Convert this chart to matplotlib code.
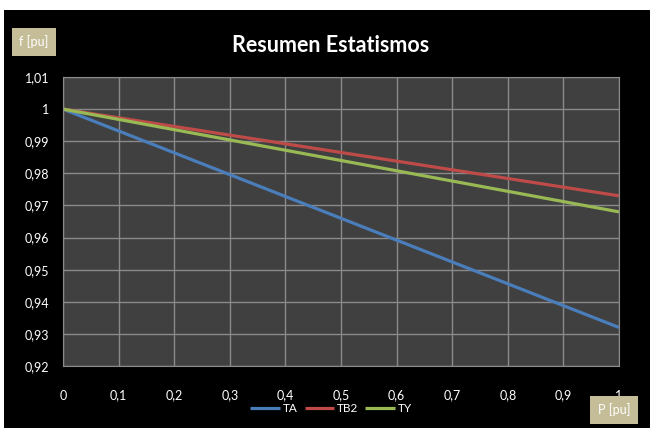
import matplotlib.pyplot as plt
from matplotlib.patches import Rectangle
from matplotlib import font_manager

# Datos de estatismo: frecuencia [pu] vs potencia [pu]
p_pu = [0.0, 1.0]
f_ta = [1.0, 0.932]
f_tb2 = [1.0, 0.973]
f_ty = [1.0, 0.968]
series = ['TA', 'TB2', 'TY']
colores = ['#4a7ebb', '#be4b48', '#98b954']

x_ticks = [i / 10 for i in range(11)]
y_ticks = [0.92 + i * 0.01 for i in range(10)]

names = {f.name for f in font_manager.fontManager.ttflist}
fam = 'Lato' if 'Lato' in names else 'DejaVu Sans'
plt.rcParams['font.family'] = [fam, 'DejaVu Sans']


def coma(v):
    s = f'{v:.2f}'.rstrip('0').rstrip('.')
    return s.replace('.', ',')


fig = plt.figure(figsize=(6.5, 4.28), dpi=100, facecolor='white')
# fondo negro del gráfico (borde blanco arriba e izquierda)
fig.patches.append(Rectangle((4 / 650, 0), 1, 418 / 428, transform=fig.transFigure,
                             facecolor='black', edgecolor='none', zorder=-10))

ax = fig.add_axes([63 / 650, 1 - 366 / 428, 556 / 650, 289 / 428])
ax.set_facecolor('#404040')

for y, c, n in zip([f_ta, f_tb2, f_ty], colores, series):
    ax.plot(p_pu, y, color=c, lw=2.3, label=n, solid_capstyle='butt')

ax.set_xlim(0, 1)
ax.set_ylim(0.92, 1.01)
ax.set_xticks(x_ticks)
ax.set_yticks(y_ticks)
ax.set_xticklabels([coma(v) for v in x_ticks])
ax.set_yticklabels([coma(v) for v in y_ticks])
ax.grid(True, color='#8a8a8a', lw=1.0)
ax.set_axisbelow(True)
for s in ax.spines.values():
    s.set_color('#8a8a8a')
ax.tick_params(colors='white', labelsize=9, length=0)
ax.tick_params(axis='x', pad=17)
ax.tick_params(axis='y', pad=10)

fig.text(331 / 650, 1 - 45 / 428, 'Resumen Estatismos', color='white',
         fontsize=15.5, fontweight='bold', ha='center', va='center')

# cajas de rótulos de ejes
fig.text(34 / 650, 1 - 42 / 428, 'f [pu]', color='white', fontsize=9,
         ha='center', va='center',
         bbox=dict(boxstyle='square,pad=0.6', facecolor='#c4bd97', edgecolor='none'))
fig.text(614 / 650, 1 - 410 / 428, 'P [pu]', color='white', fontsize=9,
         ha='center', va='center',
         bbox=dict(boxstyle='square,pad=0.6', facecolor='#c4bd97', edgecolor='none'))

leg = fig.legend(loc='center', bbox_to_anchor=(331 / 650, 1 - 409 / 428), ncol=3,
                 frameon=False, fontsize=8.5, handlelength=2.5, handletextpad=0.25,
                 columnspacing=0.6)
for t in leg.get_texts():
    t.set_color('white')

fig.savefig('out.png', dpi=100, facecolor=fig.get_facecolor())
